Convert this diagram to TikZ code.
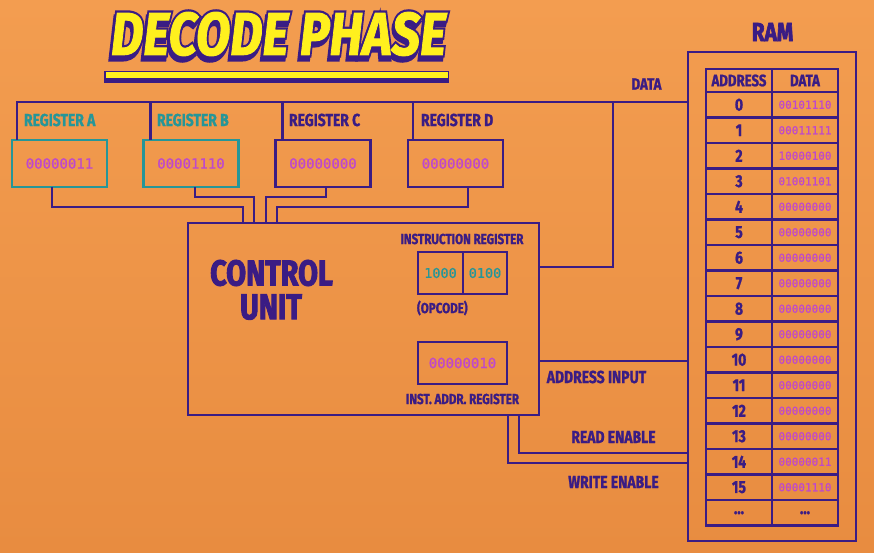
\documentclass[tikz,border=0pt]{standalone}
\usepackage{fontspec}
\setmainfont{Fira Sans}
\newfontfamily\lab[FakeStretch=0.8,FakeBold=1.2]{Fira Sans}
\newfontfamily\labh[FakeStretch=0.8,FakeBold=2.5]{Fira Sans}
\newfontfamily\monof[FakeBold=0.8]{DejaVu Sans Mono}
\newfontfamily\ttlf[FakeBold=1.5]{Fira Sans}
\newfontfamily\ttlo[FakeBold=9]{Fira Sans}
\definecolor{bgtop}{RGB}{243,157,80}
\definecolor{bgbot}{RGB}{232,140,64}
\definecolor{pur}{RGB}{58,28,132}
\definecolor{tealc}{RGB}{38,150,152}
\definecolor{mag}{RGB}{190,72,205}
\definecolor{ylw}{RGB}{255,240,30}
\newcommand\ttltxt[1]{\resizebox{335pt}{43pt}{#1\bfseries\itshape DECODE PHASE}}
\begin{document}
\begin{tikzpicture}[x=1pt,y=-1pt,
  wire/.style={draw=pur,line width=2.7pt},
  lbl/.style={font=\lab\bfseries\fontsize{17.4}{18}\selectfont,text=pur,inner sep=0,outer sep=0},
  lbls/.style={font=\lab\bfseries\fontsize{14.5}{15}\selectfont,text=pur,inner sep=0,outer sep=0},
  regbox/.style={draw=pur,line width=2.7pt,minimum width=95pt,minimum height=47pt,inner sep=0,outer sep=0,font=\monof\fontsize{14}{14}\selectfont,text=mag},
  irbox/.style={draw=pur,line width=2.7pt,minimum height=42pt,inner sep=0,outer sep=0,font=\monof\fontsize{13.5}{14}\selectfont,text=tealc},
  cell/.style={draw=pur,line width=2.7pt,minimum width=66pt,minimum height=25.5pt,inner sep=0,outer sep=0},
  cellA/.style={cell,font=\lab\bfseries\fontsize{17.4}{18}\selectfont,text=pur},
  cellD/.style={cell,font=\monof\fontsize{11}{12}\selectfont,text=mag},
  ttl/.style={inner sep=0,outer sep=0}]
\useasboundingbox (0,0) rectangle (874,553);
\shade[top color=bgtop,bottom color=bgbot] (0,0) rectangle (874,553);

% title
\node[ttl,text=pur] (titleShadow) at (277,38) {\ttltxt{\ttlo}};
\node[ttl,text=pur] (titleOutline) at (278.5,34) {\ttltxt{\ttlo}};
\node[ttl,text=ylw] (title) at (278.5,34) {\ttltxt{\ttlf}};
\fill[pur] (104,71) rectangle (449,83);
\fill[ylw] (106,72.5) rectangle (447.5,78.3);

% nodes
\node[regbox,draw=tealc] (regA) at (59.5,163.5) {00000011};
\node[regbox,draw=tealc] (regB) at (191,163.5) {00001110};
\node[regbox] (regC) at (323,163.5) {00000000};
\node[regbox] (regD) at (455.5,163.5) {00000000};
\node[lbl,text=tealc,anchor=west] (labA) at (24,120) {REGISTER A};
\node[lbl,text=tealc,anchor=west] (labB) at (157,120) {REGISTER B};
\node[lbl,anchor=west] (labC) at (289,120) {REGISTER C};
\node[lbl,anchor=west] (labD) at (421,120) {REGISTER D};

\node[draw=pur,line width=2.7pt,minimum width=351pt,minimum height=192pt,inner sep=0,outer sep=0] (cu) at (363.5,319) {};
\node[lbl,font=\labh\bfseries\fontsize{36}{36}\selectfont] (cuT1) at (271.5,273) {CONTROL};
\node[lbl,font=\labh\bfseries\fontsize{36}{36}\selectfont] (cuT2) at (271,307) {UNIT};
\node[lbls] (irLab) at (462,239) {INSTRUCTION REGISTER};
\node[irbox,minimum width=45pt] (irL) at (440.5,273) {1000};
\node[irbox,minimum width=44pt] (irR) at (485,273) {0100};
\node[lbls,anchor=west] (opc) at (417,308) {(OPCODE)};
\node[irbox,minimum width=89pt,font=\monof\fontsize{14}{14}\selectfont,text=mag] (iar) at (462.5,363) {00000010};
\node[lbls] (iarLab) at (462.5,399) {INST. ADDR. REGISTER};

% RAM
\node[lbl,font=\labh\bfseries\fontsize{26}{26}\selectfont] (ramT) at (772.5,32) {RAM};
\node[draw=pur,line width=2.7pt,minimum width=168pt,minimum height=489pt,inner sep=0,outer sep=0] (ram) at (772,296.5) {};
\node[cellA,minimum height=23pt,font=\lab\bfseries\fontsize{16.5}{17}\selectfont] (hA) at (739,80.5) {ADDRESS};
\node[cellA,minimum height=23pt,font=\lab\bfseries\fontsize{16.5}{17}\selectfont] (hD) at (805,80.5) {DATA};
\foreach \a/\d in {0/00101110,1/00011111,2/10000100,3/01001101,4/00000000,5/00000000,6/00000000,7/00000000,8/00000000,9/00000000,10/00000000,11/00000000,12/00000000,13/00000000,14/00000011,15/00001110}{
  \node[cellA] (ra\a) at (739,{104.75+25.5*\a}) {\a};
  \node[cellD] (rd\a) at (805,{104.75+25.5*\a}) {\d};
}
\node[cellA] (raMore) at (739,512.75) {...};
\node[cellA] (rdMore) at (805,512.75) {...};

% wires
\coordinate (dataJ) at (613,102);
\draw[wire] ([xshift=5pt]regA.north west) |- (ram.west |- dataJ);
\coordinate (tB) at ([xshift=7pt]regB.north west);
\coordinate (tC) at ([xshift=7pt]regC.north west);
\coordinate (tD) at ([xshift=5pt]regD.north west);
\draw[wire] (tB) -- (tB |- dataJ);
\draw[wire] (tC) -- (tC |- dataJ);
\draw[wire] (tD) -- (tD |- dataJ);
\draw[wire] ([yshift=52pt]cu.east) -| (dataJ);
\draw[wire] ([xshift=-7.5pt]regA.south) -- ++(0,20) -| ([xshift=-120.5pt]cu.north);
\draw[wire] ([xshift=4pt]regB.south) -- ++(0,10) -| ([xshift=-109.5pt]cu.north);
\draw[wire] ([xshift=3pt]regC.south) -- ++(0,10) -| ([xshift=-97.5pt]cu.north);
\draw[wire] ([xshift=12.5pt]regD.south) -- ++(0,20) -| ([xshift=-86.5pt]cu.north);
\coordinate (addrS) at ([yshift=-42pt]cu.east);
\draw[wire] (addrS) -- (addrS -| ram.west);
\coordinate (rdS) at ([xshift=155.5pt]cu.south);
\coordinate (rdE) at ([yshift=-156.5pt]ram.west);
\draw[wire] (rdS) |- (rdE);
\coordinate (wrS) at ([xshift=144.5pt]cu.south);
\coordinate (wrE) at ([yshift=-166.5pt]ram.west);
\draw[wire] (wrS) |- (wrE);

\node[lbl,font=\lab\bfseries\fontsize{16.5}{17}\selectfont] (dataLab) at (646.5,84) {DATA};
\node[lbl] (addrLab) at (596.5,377) {ADDRESS INPUT};
\node[lbl] (rdLab) at (613.5,437) {READ ENABLE};
\node[lbl] (wrLab) at (613.5,482) {WRITE ENABLE};
\end{tikzpicture}
\end{document}
